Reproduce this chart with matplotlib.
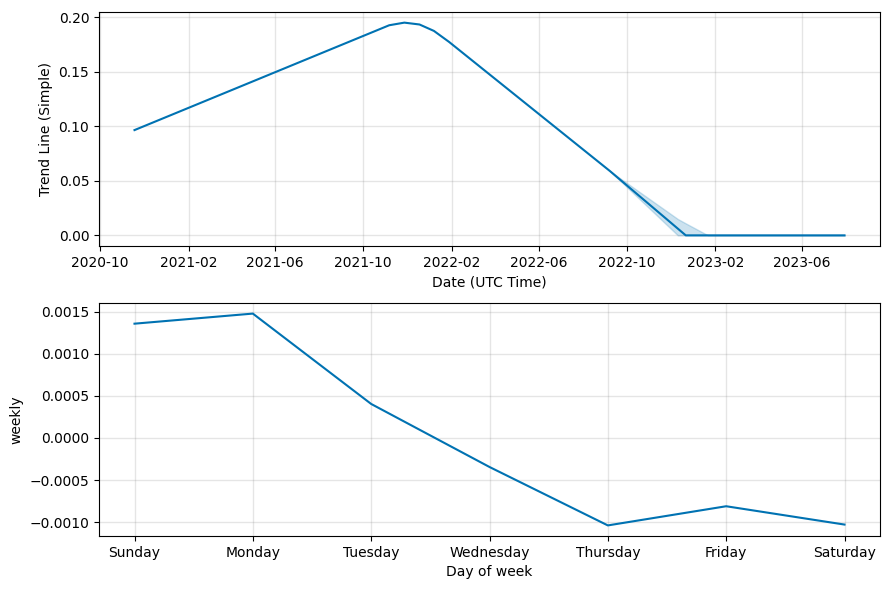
import matplotlib
matplotlib.use('Agg')
import matplotlib.pyplot as plt
import matplotlib.dates as mdates
import pandas as pd
import numpy as np

# trend line
trend_dates = pd.to_datetime([
    "2020-11-18", "2021-11-06", "2021-11-27", "2021-12-18", "2022-01-07",
    "2022-01-28", "2022-09-08", "2022-12-22", "2023-07-30",
])
trend_vals = [0.0965, 0.1926, 0.1950, 0.1933, 0.1874,
              0.1773, 0.0589, 0.0, 0.0]

# uncertainty band on the trend
band_dates = pd.to_datetime(["2022-09-08", "2022-12-11", "2022-12-22", "2023-01-22", "2023-07-30"])
band_lower = [0.0589, 0.0, 0.0, 0.0, 0.0]
band_upper = [0.0589, 0.0150, 0.0110, 0.0, 0.0]

# weekly seasonality
days = ["Sunday", "Monday", "Tuesday", "Wednesday", "Thursday", "Friday", "Saturday"]
weekly = [0.00136, 0.00148, 0.000405, -0.000345, -0.00104, -0.000812, -0.00103]

blue = '#0072B2'

fig = plt.figure(figsize=(8.9, 5.89), dpi=100)
ax1 = fig.add_axes([99/890, 1 - 246/589, 781/890, 234/589])
ax2 = fig.add_axes([99/890, 1 - 536/589, 781/890, 233/589])

ax1.plot(trend_dates, trend_vals, ls='-', c=blue)
ax1.fill_between(band_dates, band_lower, band_upper, color=blue, alpha=0.2)
ax1.xaxis.set_major_locator(mdates.MonthLocator(bymonth=[2, 6, 10]))
ax1.xaxis.set_major_formatter(mdates.DateFormatter('%Y-%m'))
ax1.grid(True, which='major', c='gray', ls='-', lw=1, alpha=0.2)
ax1.set_xlabel('Date (UTC Time)')
ax1.set_ylabel('Trend Line (Simple)')

x = np.arange(len(days))
ax2.plot(x, weekly, ls='-', c=blue)
ax2.set_xticks(x)
ax2.set_xticklabels(days)
ax2.grid(True, which='major', c='gray', ls='-', lw=1, alpha=0.2)
ax2.set_xlabel('Day of week')
ax2.set_ylabel('weekly')

plt.savefig('out.png', dpi=100)
